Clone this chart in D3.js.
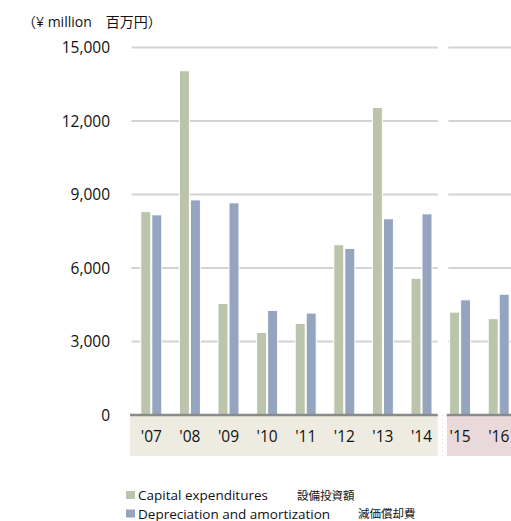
<!DOCTYPE html>
<html><head><meta charset="utf-8">
<script src="https://cdn.jsdelivr.net/npm/d3@7"></script>
<style>
html,body{margin:0;padding:0;background:#fff;}
svg{display:block;font-family:"Open Sans","Noto Sans CJK JP",sans-serif;}
</style></head>
<body>
<script>
const years = ["'07","'08","'09","'10","'11","'12","'13","'14","'15","'16"];
const capex = [8300, 14050, 4550, 3370, 3740, 6950, 12550, 5580, 4200, 3930];
const depreciation = [8170, 8780, 8660, 4270, 4160, 6800, 8010, 8210, 4700, 4930];
const yTicks = [0, 3000, 6000, 9000, 12000, 15000];
const groupA = ["'07","'08","'09","'10","'11","'12","'13","'14"];
const groupB = ["'15","'16"];
const seriesEn = ["Capital expenditures", "Depreciation and amortization"];
const seriesJa = ["設備投資額", "減価償却費"];
const colors = ["#bbc5ac", "#95a5bf"];

const W = 511, H = 521;
const svg = d3.select("body").append("svg").attr("width", W).attr("height", H);

const x = d3.scaleBand().domain(years).range([132, 132 + 38.6 * years.length]).padding(0);
const y = d3.scaleLinear().domain([0, 15000]).range([415, 47.5]);

const panels = [
  {x0: x(groupA[0]) - 2, x1: x(groupA[groupA.length-1]) + x.bandwidth() - 3, fill: "#eeebe1"},
  {x0: x(groupB[0]) + 6, x1: W + 20, fill: "#e9d9da"}
];

svg.selectAll("rect.band").data(panels).join("rect")
  .attr("x", d => d.x0).attr("y", y(0)).attr("width", d => d.x1 - d.x0).attr("height", 41)
  .attr("fill", d => d.fill);

panels.forEach(p => {
  svg.selectAll(null).data(yTicks.filter(t => t > 0)).join("line")
    .attr("x1", p.x0 + 1.5).attr("x2", p.x1)
    .attr("y1", d => y(d)).attr("y2", d => y(d))
    .attr("stroke", "#d3d3d3").attr("stroke-width", 2);
});

svg.append("line").attr("x1", 442.5).attr("x2", 442.5).attr("y1", y(0)).attr("y2", y(0) + 41)
  .attr("stroke", "#dcdcdc").attr("stroke-dasharray", "1,3");

const g = svg.append("g");
years.forEach((yr, i) => {
  const cx = x(yr) + x.bandwidth() / 2;
  [capex[i], depreciation[i]].forEach((v, s) => {
    g.append("rect")
      .attr("x", s === 0 ? cx - 10.5 : cx + 0.5)
      .attr("y", y(v))
      .attr("width", 10)
      .attr("height", y(0) - y(v))
      .attr("fill", colors[s])
      .attr("stroke", "#fff").attr("stroke-width", 1);
  });
});

panels.forEach(p => {
  svg.append("line").attr("x1", p.x0).attr("x2", p.x1).attr("y1", y(0)).attr("y2", y(0))
    .attr("stroke", "#8a8a8a").attr("stroke-width", 2.5);
});

svg.selectAll("text.yt").data(yTicks).join("text")
  .attr("x", 110).attr("y", d => y(d)).attr("dy", "0.36em")
  .attr("text-anchor", "end").attr("font-size", 15.5).attr("fill", "#111")
  .text(d => d3.format(",")(d));

svg.selectAll("text.xt").data(years).join("text")
  .attr("x", d => x(d) + x.bandwidth() / 2).attr("y", 441.5)
  .attr("text-anchor", "middle").attr("font-size", 15.5).attr("fill", "#111")
  .text(d => d);

svg.append("text").attr("x", 22).attr("y", 27).attr("font-size", 14).attr("fill", "#111")
  .text("（¥ million\u3000百万円）");

seriesEn.forEach((name, i) => {
  const ly = 495 + i * 18.5;
  const jaX = [297, 358][i];
  svg.append("rect").attr("x", 126).attr("y", ly - 4).attr("width", 9).attr("height", 8).attr("fill", colors[i]);
  svg.append("text").attr("x", 138).attr("y", ly + 5).attr("font-size", 13.5).attr("fill", "#111")
    .text(name);
  svg.append("text").attr("x", jaX).attr("y", ly + 4.5).attr("font-size", 11.5).attr("fill", "#111")
    .text(seriesJa[i]);
});
</script>
</body></html>
